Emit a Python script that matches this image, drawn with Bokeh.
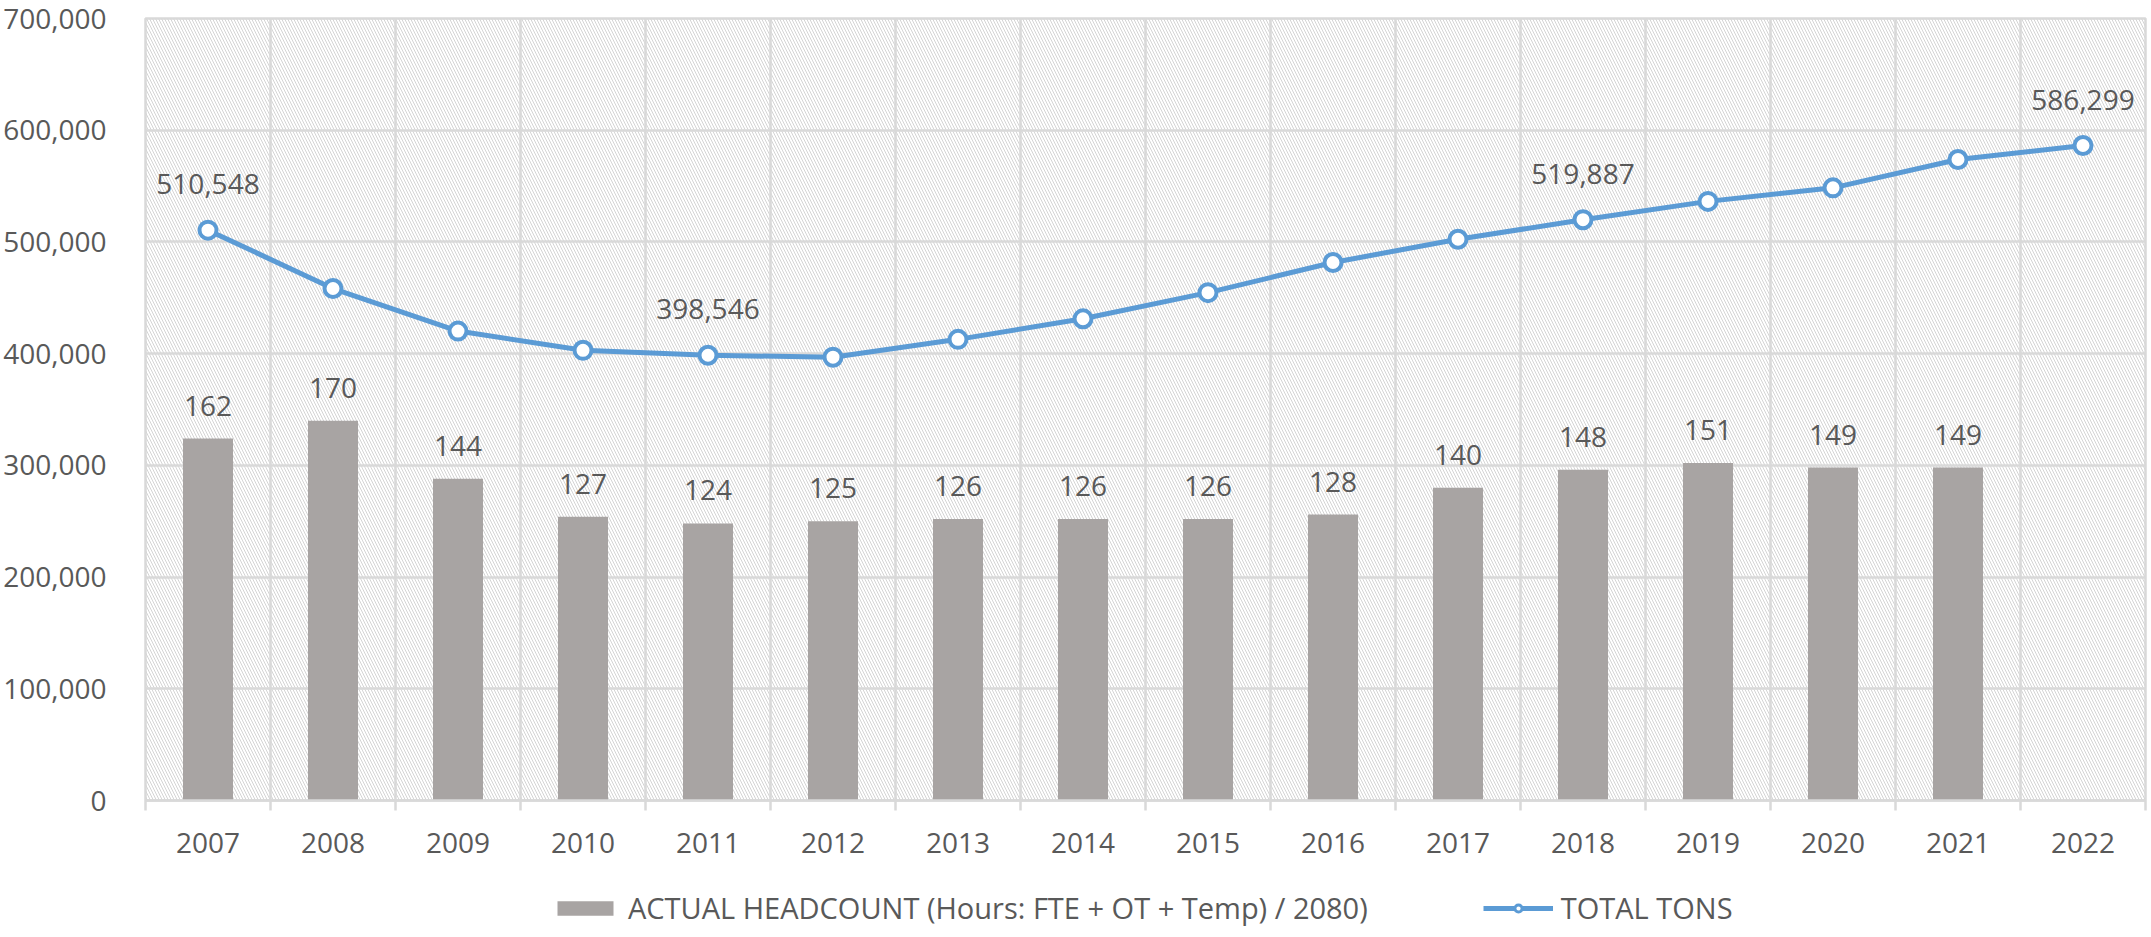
from bokeh.plotting import figure
from bokeh.layouts import column
from bokeh.models import (ColumnDataSource, FixedTicker, NumeralTickFormatter, Legend,
                          LegendItem, BoxAnnotation, Range1d)
from bokeh.embed import file_html
from bokeh.resources import INLINE
from bokeh.core.properties import value

years = ["2007", "2008", "2009", "2010", "2011", "2012", "2013", "2014",
         "2015", "2016", "2017", "2018", "2019", "2020", "2021", "2022"]
headcount = [162, 170, 144, 127, 124, 125, 126, 126, 126, 128, 140, 148, 151, 149, 149, None]
total_tons = [510548, 458300, 420200, 403000, 398546, 396800, 412800, 431200,
              454600, 481600, 502400, 519887, 536300, 548400, 573800, 586299]
tons_labeled = ["2007", "2011", "2018", "2022"]
series_names = ["ACTUAL HEADCOUNT (Hours: FTE + OT + Temp) / 2080)", "TOTAL TONS"]
bar_scale = 2000  # bars share the tons axis
y_ticks = [0, 100000, 200000, 300000, 400000, 500000, 600000, 700000]

FONT = "Open Sans"
TXT = "#595959"
GRID = "#D9D9D9"
BLUE = "#5B9BD5"
BAR = "#A8A4A3"

xc = [i + 0.5 for i in range(len(years))]
bx = [x for x, h in zip(xc, headcount) if h is not None]
bh = [h for h in headcount if h is not None]
bars = ColumnDataSource(dict(x=bx, top=[h * bar_scale for h in bh], lab=[str(h) for h in bh]))
line = ColumnDataSource(dict(x=xc, y=total_tons))
lx = [xc[years.index(y)] for y in tons_labeled]
ly = [total_tons[years.index(y)] for y in tons_labeled]
lsrc = ColumnDataSource(dict(x=lx, y=ly, lab=[f"{v:,}" for v in ly]))

p = figure(width=2151, height=880, output_backend="svg", toolbar_location=None,
           x_range=Range1d(0, len(years)), y_range=Range1d(0, 700000),
           min_border_left=145, min_border_right=6, min_border_top=18, min_border_bottom=80)
p.outline_line_color = GRID
p.outline_line_width = 2.5

p.add_layout(BoxAnnotation(fill_alpha=0, line_alpha=0, hatch_pattern="\\",
                           hatch_color="#D4D4D4", hatch_scale=6, hatch_weight=1,
                           level="image"))

p.xgrid.ticker = FixedTicker(ticks=list(range(len(years) + 1)))
p.ygrid.ticker = FixedTicker(ticks=y_ticks)
for g in (p.xgrid, p.ygrid):
    g.grid_line_color = GRID
    g.grid_line_width = 2.5

xa = p.xaxis[0]
xa.ticker = FixedTicker(ticks=xc, minor_ticks=list(range(len(years) + 1)))
xa.major_label_overrides = {x: y for x, y in zip(xc, years)}
xa.major_tick_line_color = None
xa.minor_tick_line_color = GRID
xa.minor_tick_line_width = 2.5
xa.minor_tick_in = 0
xa.minor_tick_out = 10
xa.axis_line_color = GRID
xa.axis_line_width = 2.5
xa.major_label_standoff = 22

ya = p.yaxis[0]
ya.ticker = FixedTicker(ticks=y_ticks)
ya.formatter = NumeralTickFormatter(format="0,0")
ya.axis_line_color = None
ya.major_tick_line_color = None
ya.minor_tick_line_color = None
ya.major_label_standoff = 33

for a in (xa, ya):
    a.major_label_text_font = FONT
    a.major_label_text_font_size = "28px"
    a.major_label_text_color = TXT

bar_style = dict(fill_color=BAR, line_color=None)
line_style = dict(line_color=BLUE, line_width=5)
mark_style = dict(size=17, fill_color="white", line_color=BLUE, line_width=4)

p.vbar(x="x", top="top", width=0.4, source=bars, **bar_style)
p.text(x="x", y="top", text="lab", source=bars, text_font=value(FONT), text_font_size="28px",
       text_color=TXT, text_align="center", text_baseline="middle", y_offset=-33)

p.line(x="x", y="y", source=line, **line_style)
p.scatter(x="x", y="y", source=line, **mark_style)
p.text(x="x", y="y", text="lab", source=lsrc, text_font=value(FONT), text_font_size="28px",
       text_color=TXT, text_align="center", text_baseline="middle", y_offset=-46)

# legend strip below the chart (series kept far out of view; only the legend shows)
lg = figure(width=2151, height=57, output_backend="svg", toolbar_location=None,
            x_axis_type=None, y_axis_type=None,
            x_range=Range1d(0, len(years)), y_range=Range1d(5e6, 5e6 + 1), min_border=0)
lg.outline_line_color = None
lg.grid.visible = False
r_bar = lg.vbar(x="x", top="top", width=0.4, source=bars, **bar_style)
r_line = lg.line(x="x", y="y", source=line, **line_style)
r_mark = lg.scatter(x="x", y="y", source=line, **dict(mark_style, size=13, line_width=3))

legend = Legend(items=[
    LegendItem(label=series_names[0], renderers=[r_bar]),
    LegendItem(label=series_names[1], renderers=[r_line, r_mark]),
], orientation="horizontal", location=(405, 10))
legend.label_text_font = FONT
legend.label_text_font_size = "29px"
legend.label_text_color = TXT
legend.glyph_width = 70
legend.glyph_height = 18
legend.spacing = 115
legend.label_standoff = 8
legend.border_line_color = None
legend.background_fill_alpha = 0
legend.margin = 0
legend.padding = 0
lg.add_layout(legend)

open("out.html", "w").write(file_html(column(p, lg, spacing=0), INLINE))
